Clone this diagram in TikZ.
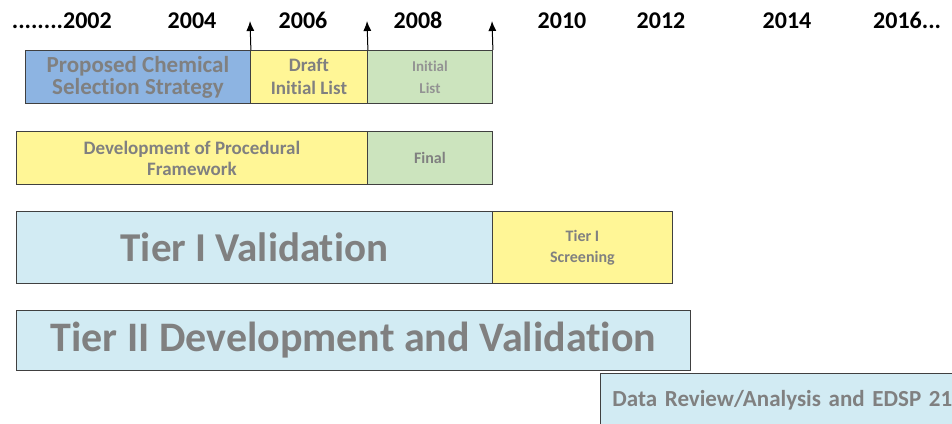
\documentclass[tikz,border=0pt]{standalone}
\usepackage{fontspec}
\setmainfont{Carlito}[Ligatures=NoCommon]
\usetikzlibrary{arrows.meta}
\definecolor{stratblue}{RGB}{141,180,226}
\definecolor{draftyellow}{RGB}{255,246,150}
\definecolor{listgreen}{RGB}{204,228,190}
\definecolor{tiercyan}{RGB}{210,235,243}
\definecolor{labelgray}{RGB}{128,128,128}
\definecolor{edge}{RGB}{64,64,64}

\newcommand{\fsz}[2]{\fontsize{#1}{#2}\selectfont}

\tikzset{
  bar/.style={draw=edge, line width=0.9pt, text=labelgray, font=\bfseries,
    align=center, inner sep=0pt, anchor=north west},
  year/.style={font=\bfseries\fsz{24}{24}, anchor=base, inner sep=0pt},
  tick/.style={-{Latex[length=10pt,width=8pt]}, line width=1pt}
}

\begin{document}
\begin{tikzpicture}[x=1pt,y=-1pt]
  \useasboundingbox (0,0) rectangle (952,423);
  \clip (0,0) rectangle (952,423);

  % time axis labels
  \node[year, anchor=base east] (y2002) at (112,28) {........2002};
  \foreach \yr/\xx in {2004/192,2006/303,2008/418,2010/562,2012/661,2014/787}
    \node[year] (y\yr) at (\xx,28) {\yr};
  \node[year, anchor=base west] (y2016) at (873,28) {2016...};

  % chemical selection
  \node[bar, fill=stratblue, minimum width=225, minimum height=53,
        font=\bfseries\fsz{23}{22}] (strategy) at (25,50)
        {Proposed Chemical\\Selection Strategy};
  \node[bar, fill=draftyellow, minimum width=117, minimum height=53,
        font=\bfseries\fsz{19}{23}] (draft) at (250,50) {Draft\\Initial List};
  \node[bar, fill=listgreen, minimum width=125, minimum height=53,
        text=labelgray!85, font=\bfseries\fsz{15}{22}] (initial) at (367,50) {Initial\\List};

  % milestones
  \coordinate (m1) at (250,21);
  \coordinate (m2) at (367,21);
  \coordinate (m3) at (492,21);
  \draw[tick] (strategy.north east) -- (m1);
  \draw[tick] (draft.north east) -- (m2);
  \draw[tick] (initial.north east) -- (m3);

  % framework
  \node[bar, fill=draftyellow, minimum width=351, minimum height=53,
        font=\bfseries\fsz{19}{21}] (framework) at (16,131)
        {Development of Procedural\\Framework};
  \node[bar, fill=listgreen, minimum width=125, minimum height=53,
        font=\bfseries\fsz{16}{20}] (final) at (367,131) {Final};

  % tier I
  \node[bar, fill=tiercyan, minimum width=476, minimum height=72,
        font=\bfseries\fsz{41}{41}] (tier1) at (16,211) {Tier I Validation};
  \node[bar, fill=draftyellow, minimum width=180, minimum height=72,
        font=\bfseries\fsz{16}{21}] (screen) at (492,211) {Tier I\\Screening};

  % tier II
  \node[bar, fill=tiercyan, minimum width=674, minimum height=60,
        font=\bfseries\fsz{42}{42}] (tier2) at (16,310)
        {Tier II Development and Validation};

  % review
  \node[bar, fill=tiercyan, minimum height=54, text width=388,
        align=left, inner xsep=12pt, font=\bfseries\fsz{23}{23}] (review) at (600,373)
        {Data Review/Analysis and EDSP 21};
\end{tikzpicture}
\end{document}
